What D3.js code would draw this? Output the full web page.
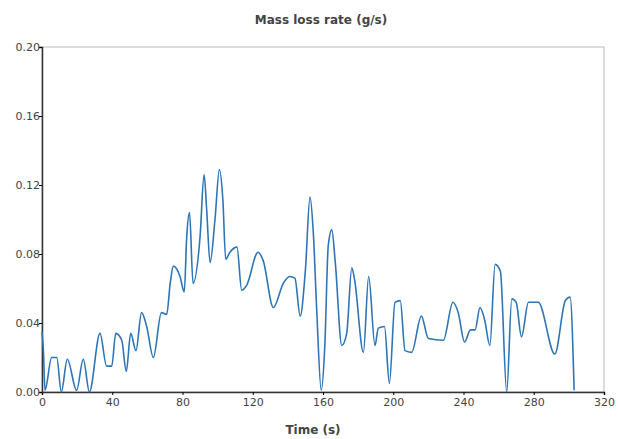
<!DOCTYPE html>
<html><head><meta charset="utf-8">
<script src="https://cdn.jsdelivr.net/npm/d3@7"></script>
<style>body{margin:0;background:#fff}text{font-family:"DejaVu Sans",sans-serif}</style>
</head><body><div id="chart"></div>
<script>
// Dữ liệu
const times = [0,0.8,1.7,5.5,8.4,11,14.4,19.7,23.5,27,33,36.8,39.7,42,45.4,48,50.5,53.5,56.7,59.6,63.4,68,71,73,74.8,78.6,81,82.4,84,86,90,92.3,93.8,95.7,98.5,101,103,104.6,107,111,113.7,116.6,123,126,131.7,137.4,141,144,147,150,152.6,154.5,156.4,159,161,163,165,167,170.7,173.5,176.4,178,183,186,189.6,191.5,195,197.8,201,204,206.7,210.5,216,220,228.5,234,237,240.6,244,246.6,249.4,252,255,258,261,264.6,267.5,270,273,277,282.6,292,298,300.7,303];
const rates = [0.035,0.024,0.001,0.02,0.02,0,0.019,0.001,0.019,0,0.034,0.015,0.015,0.034,0.03,0.012,0.034,0.024,0.046,0.038,0.02,0.046,0.045,0.063,0.073,0.067,0.058,0.09,0.104,0.063,0.09,0.126,0.105,0.075,0.1,0.129,0.111,0.077,0.081,0.084,0.059,0.062,0.081,0.076,0.049,0.063,0.067,0.066,0.044,0.071,0.113,0.092,0.048,0.001,0.026,0.085,0.094,0.075,0.027,0.034,0.072,0.065,0.023,0.067,0.027,0.037,0.038,0.005,0.052,0.053,0.024,0.023,0.044,0.031,0.03,0.052,0.046,0.029,0.036,0.036,0.049,0.042,0.027,0.074,0.07,0,0.054,0.052,0.032,0.052,0.052,0.022,0.053,0.055,0.001];
const xTicks = [0,40,80,120,160,200,240,280,320];
const yTicks = [0,0.04,0.08,0.12,0.16,0.20];

const W = 618, H = 439;
const m = {left: 42, right: 14, top: 47, bottom: 47};
const svg = d3.select('#chart').append('svg').attr('width', W).attr('height', H);

const x = d3.scaleLinear().domain([0, 320]).range([m.left, W - m.right]);
const y = d3.scaleLinear().domain([0, 0.2]).range([H - m.bottom, m.top]);

// Khung
svg.append('rect').attr('x', m.left).attr('y', m.top)
    .attr('width', W - m.left - m.right).attr('height', H - m.top - m.bottom)
    .attr('fill', 'none').attr('stroke', '#bbb');

// Trục
const xa = svg.append('g').attr('transform', `translate(0,${H - m.bottom})`)
    .call(d3.axisBottom(x).tickValues(xTicks).tickSize(3).tickFormat(d3.format('d')));
const ya = svg.append('g').attr('transform', `translate(${m.left},0)`)
    .call(d3.axisLeft(y).tickValues(yTicks).tickSize(3).tickFormat(d3.format('.2f')));
[xa, ya].forEach(a => {
    a.select('.domain').attr('stroke', '#333').attr('stroke-width', 1.5);
    a.selectAll('text').attr('font-size', 11).attr('fill', '#444');
});
ya.selectAll('text').attr('x', -2);

// Đường dữ liệu (làm mượt)
svg.append('path').datum(times.map((t, i) => [t, rates[i]]))
    .attr('fill', 'none').attr('stroke', '#2e75b6').attr('stroke-width', 1.6)
    .attr('d', d3.line().curve(d3.curveMonotoneX).x(d => x(d[0])).y(d => y(d[1])));

// Tiêu đề
svg.append('text').attr('x', 321).attr('y', 24).attr('text-anchor', 'middle')
    .attr('font-size', 12).attr('font-weight', 'bold').attr('fill', '#444').text('Mass loss rate (g/s)');
svg.append('text').attr('x', 313).attr('y', 434).attr('text-anchor', 'middle')
    .attr('font-size', 12).attr('font-weight', 'bold').attr('fill', '#444').text('Time (s)');
</script></body></html>
